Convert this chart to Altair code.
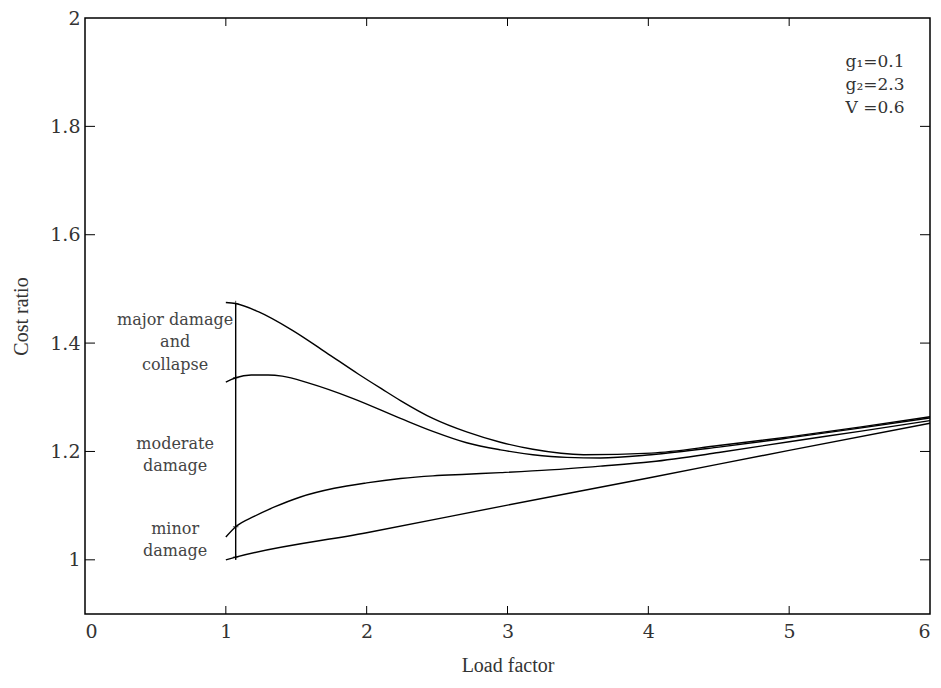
import altair as alt
import pandas as pd

# ---- data ----
load_major = [1.0, 1.07, 1.23, 1.47, 1.71, 1.94, 2.11, 2.24, 2.47, 2.71, 2.95, 3.18, 3.54, 4.02, 4.5, 5.0, 5.5, 6.0]
cost_major = [1.475, 1.473, 1.458, 1.424, 1.383, 1.343, 1.315, 1.294, 1.261, 1.236, 1.217, 1.204, 1.194, 1.197, 1.211, 1.227, 1.245, 1.264]

load_collapse = [1.0, 1.07, 1.18, 1.30, 1.40, 1.59, 1.90, 2.24, 2.47, 2.71, 2.95, 3.18, 3.42, 3.66, 4.02, 4.5, 5.0, 5.5, 6.0]
cost_collapse = [1.328, 1.336, 1.341, 1.341, 1.339, 1.326, 1.298, 1.261, 1.237, 1.216, 1.203, 1.194, 1.189, 1.188, 1.194, 1.208, 1.225, 1.243, 1.262]

load_moderate = [1.0, 1.07, 1.2, 1.35, 1.53, 1.77, 2.0, 2.24, 2.47, 2.71, 2.95, 3.3, 3.66, 4.02, 4.5, 5.0, 5.5, 6.0]
cost_moderate = [1.042, 1.061, 1.080, 1.098, 1.116, 1.132, 1.142, 1.150, 1.155, 1.158, 1.161, 1.166, 1.173, 1.181, 1.198, 1.218, 1.237, 1.257]

load_minor = [1.0, 1.07, 2.0, 3.0, 4.0, 5.0, 6.0]
cost_minor = [1.0, 1.005, 1.050, 1.101, 1.151, 1.202, 1.252]

# vertical bar at the start of the curves
bar_load = [1.07]
bar_low = [1.0]
bar_high = [1.473]
mark_costs = [1.473, 1.336, 1.061, 1.005]

# region labels
label_text = ["major damage", "and", "collapse", "moderate", "damage", "minor", "damage"]
label_load = [0.64, 0.64, 0.64, 0.64, 0.64, 0.64, 0.64]
label_cost = [1.443, 1.402, 1.360, 1.214, 1.173, 1.057, 1.017]

# parameter annotation
param_text = ["g\u2081=0.1", "g\u2082=2.3", "V =0.6"]
param_load = [5.4, 5.4, 5.4]
param_cost = [1.919, 1.877, 1.834]

x_ticks = [0, 1, 2, 3, 4, 5, 6]
y_ticks = [1.0, 1.2, 1.4, 1.6, 1.8, 2.0]
x_inner = [1, 2, 3, 4, 5]
y_inner = [1.0, 1.2, 1.4, 1.6, 1.8]

W, H = 845, 596
FONT = "DejaVu Serif"

rows = []
for name, xs, ys in [("major", load_major, cost_major), ("collapse", load_collapse, cost_collapse),
                     ("moderate", load_moderate, cost_moderate), ("minor", load_minor, cost_minor)]:
    for i, (a, b) in enumerate(zip(xs, ys)):
        rows.append({"series": name, "load": a, "cost": b, "ord": i})
curves_df = pd.DataFrame(rows)

xscale = alt.Scale(domain=[0, 6], nice=False, zero=False)
yscale = alt.Scale(domain=[0.9, 2.0], nice=False, zero=False)

xaxis = alt.Axis(values=x_ticks, format="d", title="Load factor", ticks=False, domain=False, grid=False,
                 labelFont=FONT, labelFontSize=19, labelColor="#333", labelPadding=8,
                 titleFont="Liberation Serif", titleFontSize=20, titleFontWeight="normal", titleColor="#333",
                 titlePadding=14)
yaxis = alt.Axis(values=y_ticks, format="~g", title="Cost ratio", ticks=False, domain=False, grid=False,
                 labelFont=FONT, labelFontSize=19, labelColor="#333", labelPadding=5,
                 titleFont="Liberation Serif", titleFontSize=20, titleFontWeight="normal", titleColor="#333",
                 titlePadding=18)

curves = alt.Chart(curves_df).mark_line(color="black", strokeWidth=1.4, interpolate="monotone").encode(
    x=alt.X("load:Q", scale=xscale, axis=xaxis),
    y=alt.Y("cost:Q", scale=yscale, axis=yaxis),
    detail="series:N",
    order="ord:Q",
)

bar = alt.Chart(pd.DataFrame({"load": bar_load, "lo": bar_low, "hi": bar_high})).mark_rule(
    color="black", strokeWidth=1.4).encode(x="load:Q", y="lo:Q", y2="hi:Q")

marks = alt.Chart(pd.DataFrame({"load": bar_load * len(mark_costs), "cost": mark_costs})).mark_point(
    shape="M-1,0L1,0M0,-1L0,1", size=30, filled=False, color="black", strokeWidth=1).encode(
    x="load:Q", y="cost:Q")

labels = alt.Chart(pd.DataFrame({"t": label_text, "load": label_load, "cost": label_cost})).mark_text(
    font=FONT, fontSize=16, color="#444", align="center", baseline="middle").encode(
    x="load:Q", y="cost:Q", text="t:N")

params = alt.Chart(pd.DataFrame({"t": param_text, "load": param_load, "cost": param_cost})).mark_text(
    font=FONT, fontSize=17, color="#333", align="left", baseline="middle").encode(
    x="load:Q", y="cost:Q", text="t:N")

xt = pd.DataFrame({"load": x_inner})
yt = pd.DataFrame({"cost": y_inner})
bottom_ticks = alt.Chart(xt).mark_rule(color="black", strokeWidth=1).encode(
    x="load:Q", y=alt.value(H), y2=alt.value(H - 8))
top_ticks = alt.Chart(xt).mark_rule(color="black", strokeWidth=1).encode(
    x="load:Q", y=alt.value(0), y2=alt.value(8))
left_ticks = alt.Chart(yt).mark_rule(color="black", strokeWidth=1).encode(
    y="cost:Q", x=alt.value(0), x2=alt.value(10))
right_ticks = alt.Chart(yt).mark_rule(color="black", strokeWidth=1).encode(
    y="cost:Q", x=alt.value(W), x2=alt.value(W - 10))

chart = alt.layer(curves, bar, marks, labels, params, bottom_ticks, top_ticks, left_ticks, right_ticks).properties(
    width=W, height=H,
    background="white",
    autosize=alt.AutoSizeParams(type="none"),
    padding={"left": 77, "top": 10, "right": 3, "bottom": 66},
).configure_view(stroke="black", strokeWidth=1.5, strokeOpacity=1)

chart.save("out.html", embed_options={"renderer": "svg", "actions": False})
